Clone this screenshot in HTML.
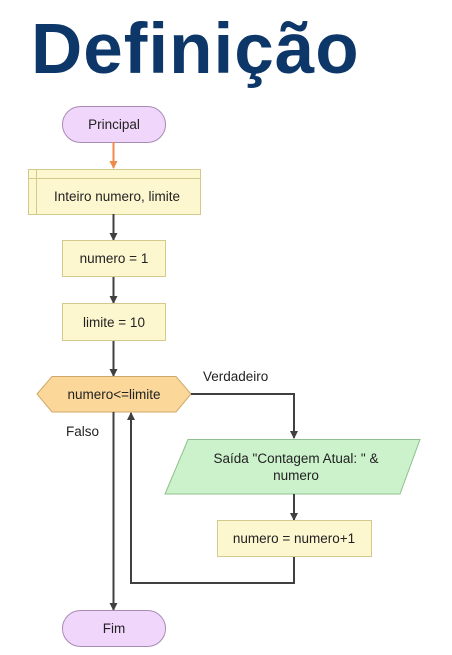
<!DOCTYPE html>
<html><head><meta charset="utf-8"><style>
body{margin:0;background:#fff;width:452px;height:650px;overflow:hidden}
</style></head><body>
<svg width="452" height="650" xmlns="http://www.w3.org/2000/svg" font-family="Liberation Sans, sans-serif">
<defs>
<marker id="a" markerWidth="8" markerHeight="8" refX="7" refY="4" orient="auto" markerUnits="userSpaceOnUse"><path d="M0,0 L8,4 L0,8 Z" fill="#404040"/></marker>
<marker id="o" markerWidth="8" markerHeight="8" refX="7" refY="4" orient="auto" markerUnits="userSpaceOnUse"><path d="M0,0 L8,4 L0,8 Z" fill="#f08a4b"/></marker>
</defs>
<text x="31" y="73" font-size="71" font-weight="bold" fill="#0c3768" letter-spacing="1">Definição</text>
<rect x="62.5" y="106.5" width="103" height="36" rx="18" fill="#f1d6fb" stroke="#a98ab5"/>
<text x="114" y="129" font-size="13.5" text-anchor="middle" fill="#222">Principal</text>
<line x1="113.5" y1="142" x2="113.5" y2="168" stroke="#f08a4b" stroke-width="2" marker-end="url(#o)"/>
<rect x="28.5" y="169.5" width="172" height="45" fill="#fdf7cf" stroke="#d4c98d"/>
<line x1="28.5" y1="178.5" x2="200.5" y2="178.5" stroke="#d4c98d"/>
<line x1="36.5" y1="169.5" x2="36.5" y2="214.5" stroke="#d4c98d"/>
<text x="117" y="201" font-size="13.5" text-anchor="middle" fill="#222">Inteiro numero, limite</text>
<line x1="113.5" y1="214" x2="113.5" y2="240" stroke="#404040" stroke-width="2" marker-end="url(#a)"/>
<rect x="62.5" y="240.5" width="103" height="36" fill="#fdf7cf" stroke="#d4c98d"/>
<text x="114" y="263" font-size="13.5" text-anchor="middle" fill="#222">numero = 1</text>
<line x1="113.5" y1="277" x2="113.5" y2="303" stroke="#404040" stroke-width="2" marker-end="url(#a)"/>
<rect x="62.5" y="303.5" width="103" height="37" fill="#fdf7cf" stroke="#d4c98d"/>
<text x="114" y="327" font-size="13.5" text-anchor="middle" fill="#222">limite = 10</text>
<line x1="113.5" y1="341" x2="113.5" y2="376" stroke="#404040" stroke-width="2" marker-end="url(#a)"/>
<polygon points="37,394 52,376.5 176,376.5 191,394 176,412 52,412" fill="#fbd79a" stroke="#d0a86a"/>
<text x="114" y="399" font-size="13.5" text-anchor="middle" fill="#222">numero&lt;=limite</text>
<text x="203" y="381" font-size="13.5" fill="#222">Verdadeiro</text>
<text x="66" y="436" font-size="13.5" fill="#222">Falso</text>
<polyline points="191,394 294,394 294,438" fill="none" stroke="#404040" stroke-width="2" marker-end="url(#a)"/>
<polygon points="188,439.5 420,439.5 400,494 165,494" fill="#ccf2cc" stroke="#8fbf8f"/>
<text x="296" y="463" font-size="13.5" text-anchor="middle" fill="#222">Saída "Contagem Atual: " &amp;</text>
<text x="296" y="480" font-size="13.5" text-anchor="middle" fill="#222">numero</text>
<line x1="294" y1="494" x2="294" y2="520" stroke="#404040" stroke-width="2" marker-end="url(#a)"/>
<rect x="217.5" y="520.5" width="154" height="36" fill="#fdf7cf" stroke="#d4c98d"/>
<text x="294" y="543" font-size="13.5" text-anchor="middle" fill="#222">numero = numero+1</text>
<polyline points="294,557 294,583 131,583 131,413" fill="none" stroke="#404040" stroke-width="2" marker-end="url(#a)"/>
<line x1="113.5" y1="412" x2="113.5" y2="610" stroke="#404040" stroke-width="2" marker-end="url(#a)"/>
<rect x="62.5" y="610.5" width="103" height="36" rx="18" fill="#f1d6fb" stroke="#a98ab5"/>
<text x="114" y="633" font-size="13.5" text-anchor="middle" fill="#222">Fim</text>
</svg>
</body></html>
